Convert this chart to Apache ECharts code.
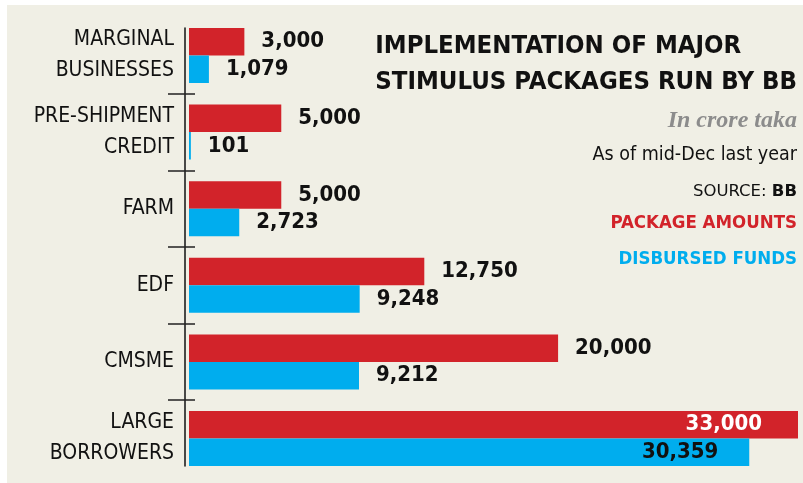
<!DOCTYPE html>
<html>
<head>
<meta charset="utf-8">
<script src="https://cdn.jsdelivr.net/npm/echarts@6/dist/echarts.min.js"></script>
<style>
  html, body { margin: 0; padding: 0; background: #ffffff; }
  #chart { position: absolute; left: 7px; top: 5px; width: 796px; height: 478px; }
</style>
</head>
<body>
<div id="chart"></div>
<script>
// data (crore taka)
const categories = ['MARGINAL\nBUSINESSES', 'PRE-SHIPMENT\nCREDIT', 'FARM', 'EDF', 'CMSME', 'LARGE\nBORROWERS'];
const packageAmounts = [3000, 5000, 5000, 12750, 20000, 33000];
const disbursedFunds = [1079, 101, 2723, 9248, 9212, 30359];

const RED = '#d2232a';
const BLUE = '#00adee';
const NARROW = '"Liberation Sans Narrow", "DejaVu Sans Condensed", sans-serif';

// layout of the bar area
const barTop = 12.2;
const band = 76.6;

const chart = echarts.init(document.getElementById('chart'));

function fmt(v) {
    return v.toLocaleString('en-US');
}

// long bars get their label inside
function withLabels(values, insideColor, insideDist) {
    return values.map(function (v) {
        if (v > 25000) {
            return {
                value: v,
                label: { position: 'insideRight', color: insideColor, distance: insideDist }
            };
        }
        return v;
    });
}

const valueLabel = {
    show: true,
    position: 'right',
    distance: 17,
    fontFamily: NARROW,
    fontWeight: 'bold',
    fontSize: 22,
    color: '#111',
    formatter: function (p) { return fmt(p.value); }
};

const option = {
    backgroundColor: '#f0efe5',
    animation: false,
    title: [
        {
            text: 'IMPLEMENTATION OF MAJOR\nSTIMULUS PACKAGES RUN BY BB',
            right: 6, top: 23, padding: 0,
            textStyle: { fontFamily: NARROW, fontWeight: 'bold', fontSize: 25.5, lineHeight: 36, color: '#111' }
        },
        {
            text: 'In crore taka',
            right: 6, top: 104, padding: 0,
            textStyle: { fontFamily: '"Liberation Serif", serif', fontStyle: 'italic', fontWeight: 'bold', fontSize: 24, color: '#8c8c8c' }
        },
        {
            text: 'As of mid-Dec last year',
            right: 6, top: 140, padding: 0,
            textStyle: { fontFamily: NARROW, fontWeight: 'normal', fontSize: 19.5, color: '#111' }
        },
        {
            text: '{a|SOURCE: }{b|BB}',
            right: 6, top: 178, padding: 0,
            textStyle: {
                rich: {
                    a: { fontFamily: '"DejaVu Sans", sans-serif', fontSize: 16.5, fontWeight: 'normal', color: '#111' },
                    b: { fontFamily: '"DejaVu Sans", sans-serif', fontSize: 16.5, fontWeight: 'bold', color: '#111' }
                }
            }
        }
    ],
    legend: [
        {
            data: [{ name: 'PACKAGE AMOUNTS', textStyle: { color: RED } }],
            right: 6, top: 209, padding: 0,
            icon: 'none', itemWidth: 0, itemHeight: 0,
            selectedMode: false,
            textStyle: { fontFamily: NARROW, fontWeight: 'bold', fontSize: 18.5, padding: 0 }
        },
        {
            data: [{ name: 'DISBURSED FUNDS', textStyle: { color: BLUE } }],
            right: 6, top: 245, padding: 0,
            icon: 'none', itemWidth: 0, itemHeight: 0,
            selectedMode: false,
            textStyle: { fontFamily: NARROW, fontWeight: 'bold', fontSize: 18.5, padding: 0 }
        }
    ],
    grid: [
        // bars
        { left: 182, right: 5, top: barTop, height: band * categories.length },
        // vertical axis line
        { left: 178, width: 10, top: 23, height: 438 },
        // cross ticks between categories
        { left: 178, width: 10, top: barTop + band, height: band * (categories.length - 2) }
    ],
    xAxis: [
        { gridIndex: 0, type: 'value', min: 0, max: 33000, show: false },
        { gridIndex: 1, type: 'value', show: false },
        { gridIndex: 2, type: 'value', show: false }
    ],
    yAxis: [
        {
            gridIndex: 0,
            type: 'category',
            data: categories,
            inverse: true,
            axisLine: { show: false },
            axisTick: { show: false },
            axisLabel: {
                margin: 15,
                fontFamily: NARROW,
                fontSize: 21,
                lineHeight: 31,
                color: '#111',
                align: 'right'
            }
        },
        {
            gridIndex: 1,
            type: 'value',
            min: 0, max: 1,
            axisLine: { show: true, lineStyle: { color: '#111', width: 1.5 } },
            axisTick: { show: false },
            axisLabel: { show: false },
            splitLine: { show: false }
        },
        {
            gridIndex: 2,
            type: 'value',
            min: 0, max: 4, interval: 1,
            axisLine: { show: false },
            axisTick: { show: true, inside: false, length: 17, lineStyle: { color: '#222', width: 1.5 } },
            axisLabel: { show: false },
            splitLine: { show: false }
        },
        {
            gridIndex: 2,
            type: 'value',
            min: 0, max: 4, interval: 1,
            axisLine: { show: false },
            axisTick: { show: true, inside: true, length: 18, lineStyle: { color: '#222', width: 1.5 } },
            axisLabel: { show: false },
            splitLine: { show: false }
        }
    ],
    series: [
        {
            name: 'PACKAGE AMOUNTS',
            type: 'bar',
            xAxisIndex: 0, yAxisIndex: 0,
            barWidth: 27.5,
            barGap: '0%',
            itemStyle: { color: RED },
            label: valueLabel,
            data: withLabels(packageAmounts, '#ffffff', 36)
        },
        {
            name: 'DISBURSED FUNDS',
            type: 'bar',
            xAxisIndex: 0, yAxisIndex: 0,
            barWidth: 27.5,
            barGap: '0%',
            itemStyle: { color: BLUE },
            label: valueLabel,
            data: withLabels(disbursedFunds, '#111', 31)
        }
    ]
};

chart.setOption(option);
</script>
</body>
</html>
